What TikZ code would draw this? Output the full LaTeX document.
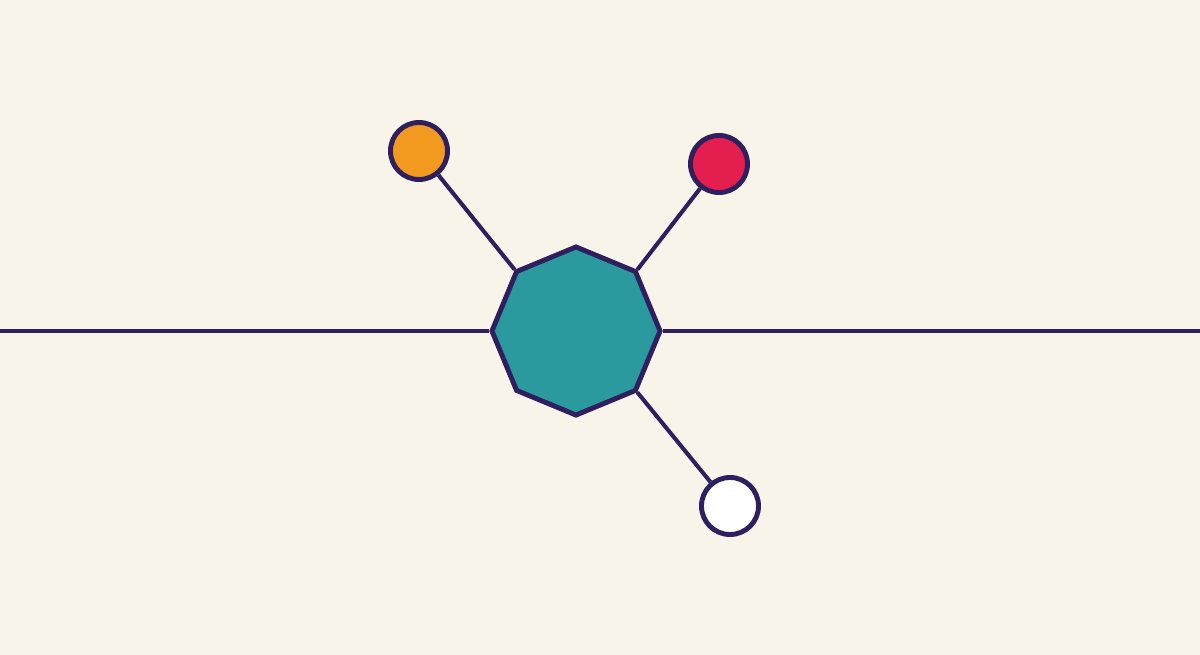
\documentclass[tikz,border=0pt]{standalone}
\usetikzlibrary{positioning, shapes.geometric}

\definecolor{paper}{HTML}{F8F4EA}
\definecolor{ink}{HTML}{2F1F5E}
\definecolor{hubfill}{HTML}{2A9A9F}
\definecolor{orangefill}{HTML}{F29A1F}
\definecolor{redfill}{HTML}{E41E4E}

\begin{document}
\begin{tikzpicture}[x = 0.01cm, y = -0.01cm]
\begin{scope}[
	wire/.style={draw=ink, line width=1.15pt},
	hub/.style={
		regular polygon, regular polygon sides=8, shape border rotate=22.5,
		minimum size=1.68cm, inner sep=0pt, fill=hubfill, draw=ink, line width=1.4pt
	},
	ball/.style={
		circle, minimum size=0.57cm, inner sep=0pt, draw=ink, line width=1.4pt
	}
]
\fill[paper] (0, 0) rectangle (1200, 655);
\useasboundingbox (0, 0) rectangle (1200, 655);

\coordinate (left-end) at (0, 331);
\coordinate (right-end) at (1200, 331);
\node[hub] (center) at (576, 331) {};
\node[ball, fill=orangefill] (orange) at (419, 151) {};
\node[ball, fill=redfill] (red) at (719, 164) {};
\node[ball, fill=white] (white) at (730, 506) {};

\draw[wire] (left-end) -- (center.west);
\draw[wire] (center.east) -- (right-end);
\draw[wire] (orange) -- (center.135);
\draw[wire] (red) -- (center.45);
\draw[wire] (white) -- (center.-45);
\end{scope}
\end{tikzpicture}
\end{document}
